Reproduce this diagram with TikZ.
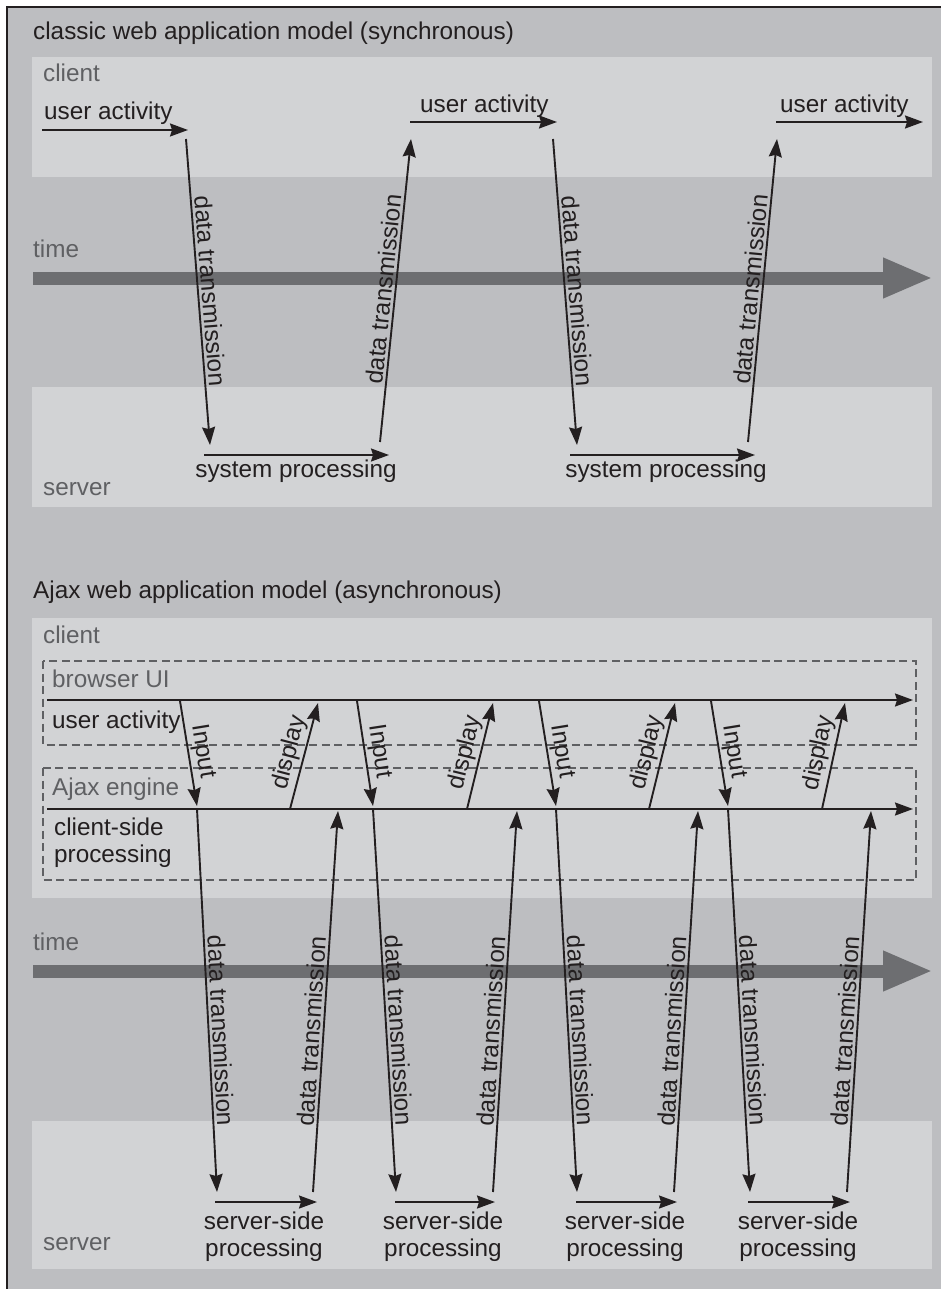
\documentclass[tikz,border=0pt]{standalone}
\usepackage{fontspec}
\setmainfont{Liberation Sans}
\usetikzlibrary{arrows.meta, positioning}
\definecolor{frameGray}{RGB}{189,190,193}
\definecolor{panelGray}{RGB}{210,211,213}
\definecolor{timeGray}{RGB}{109,110,113}
\definecolor{labelGray}{RGB}{95,96,99}
\definecolor{inkBlack}{RGB}{35,31,32}

\begin{document}
\begin{tikzpicture}[
  x=1pt, y=-1pt,
  every node/.style={font=\fontsize{24.3}{26.5}\selectfont, text=inkBlack, inner sep=0pt},
  lbl/.style={anchor=base west},
  greylbl/.style={anchor=base west, text=labelGray},
  flow/.style={-{Stealth[length=18pt, width=13pt, inset=2pt]}, line width=1.9pt, draw=inkBlack},
  timebar/.style={-{Triangle[length=50pt, width=37pt]}, line width=13pt, draw=timeGray},
  panel/.style={fill=panelGray},
  dashbox/.style={draw=labelGray, line width=1.8pt, dash pattern=on 8pt off 4.5pt},
  tag/.style={midway, above, sloped, inner sep=2.5pt}
]
  \useasboundingbox (0,0) rectangle (941,1289);
  \fill[white] (0,0) rectangle (941,1289);
  % frame
  \fill[frameGray] (7,7) rectangle (960,1300);
  \draw[inkBlack, line width=2pt] (7,1300) -- (7,7) -- (960,7);

  % classic model
  \node[lbl] (title1) at (33,40) {classic web application model (synchronous)};
  \fill[panel] (32,57) rectangle (932,177);
  \fill[panel] (32,387) rectangle (932,507);
  \node[greylbl] (client1) at (43,82) {client};
  \node[greylbl] (server1) at (43,495) {server};
  \node[greylbl] (time1) at (33,257) {time};
  \coordinate (t1a) at (33,278);
  \coordinate (t1b) at (933,278);
  \draw[timebar] (t1a) -- (t1b);

  \node[lbl] (ua1) at (44,120) {user activity};
  \node[lbl] (ua2) at (420,113) {user activity};
  \node[lbl] (ua3) at (780,113) {user activity};
  \node[anchor=base] (sp1) at (296,477) {system processing};
  \node[anchor=base] (sp2) at (666,477) {system processing};

  \coordinate (ua1a) at (42,130);  \coordinate (ua1b) at (188,130);
  \coordinate (dn1a) at (186,139); \coordinate (dn1b) at (210,445);
  \coordinate (sp1a) at (204,455); \coordinate (sp1b) at (389,455);
  \coordinate (up1a) at (380,442); \coordinate (up1b) at (411,139);
  \coordinate (ua2a) at (410,122); \coordinate (ua2b) at (557,122);
  \coordinate (dn2a) at (553,139); \coordinate (dn2b) at (577,445);
  \coordinate (sp2a) at (570,455); \coordinate (sp2b) at (755,455);
  \coordinate (up2a) at (748,442); \coordinate (up2b) at (777,139);
  \coordinate (ua3a) at (776,122); \coordinate (ua3b) at (923,122);

  \draw[flow] (ua1a) -- (ua1b);
  \draw[flow] (dn1a) -- node[tag] {data transmission} (dn1b);
  \draw[flow] (sp1a) -- (sp1b);
  \draw[flow] (up1a) -- node[tag] {data transmission} (up1b);
  \draw[flow] (ua2a) -- (ua2b);
  \draw[flow] (dn2a) -- node[tag] {data transmission} (dn2b);
  \draw[flow] (sp2a) -- (sp2b);
  \draw[flow] (up2a) -- node[tag] {data transmission} (up2b);
  \draw[flow] (ua3a) -- (ua3b);

  % Ajax model
  \node[lbl] (title2) at (33,598) {Ajax web application model (asynchronous)};
  \fill[panel] (32,618) rectangle (932,898);
  \fill[panel] (32,1121) rectangle (932,1269);
  \node[greylbl] (client2) at (43,643) {client};
  \node[greylbl] (server2) at (43,1250) {server};
  \node[greylbl] (time2) at (33,950) {time};
  \coordinate (t2a) at (33,971);
  \coordinate (t2b) at (933,971);
  \draw[timebar] (t2a) -- (t2b);

  \draw[dashbox] (43,661) rectangle (916,745);
  \draw[dashbox] (43,768) rectangle (916,880);
  \node[greylbl] (ui) at (52,687) {browser UI};
  \node[lbl] (uact) at (52,728) {user activity};
  \node[greylbl] (engine) at (52,795) {Ajax engine};
  \node[lbl, anchor=north west, align=left] (csp) at (54,818) {client-side\\processing};

  \coordinate (uia) at (47,700);  \coordinate (uib) at (913,700);
  \coordinate (ena) at (47,809);  \coordinate (enb) at (913,809);
  \draw[flow] (uia) -- (uib);
  \draw[flow] (ena) -- (enb);

  \foreach \i/\inA/\inB/\dpA/\dpB/\dnB/\upA/\upB/\svA/\svB/\svT in
    {1/180/197/290/318/217/313/338/215/317/264,
     2/357/373/467/493/396/493/517/395/495/443,
     3/539/556/649/675/577/674/698/576/677/625,
     4/711/728/822/845/750/847/871/748/850/798}
  {
    \coordinate (in\i a) at (\inA,701);  \coordinate (in\i b) at (\inB,806);
    \coordinate (dp\i a) at (\dpA,809);  \coordinate (dp\i b) at (\dpB,703);
    \coordinate (dt\i a) at (\inB,809);  \coordinate (dt\i b) at (\dnB,1192);
    \coordinate (ut\i a) at (\upA,1192); \coordinate (ut\i b) at (\upB,811);
    \coordinate (ss\i a) at (\svA,1202); \coordinate (ss\i b) at (\svB,1202);
    \draw[flow] (in\i a) -- node[tag] {Input} (in\i b);
    \draw[flow] (dp\i a) -- node[tag] {display} (dp\i b);
    \draw[flow] (dt\i a) -- node[tag, pos=0.58] {data transmission} (dt\i b);
    \draw[flow] (ut\i a) -- node[tag, pos=0.42] {data transmission} (ut\i b);
    \draw[flow] (ss\i a) -- (ss\i b);
    \node[anchor=north, align=center] (ssp\i) at (\svT,1212) {server-side\\processing};
  }
\end{tikzpicture}
\end{document}
